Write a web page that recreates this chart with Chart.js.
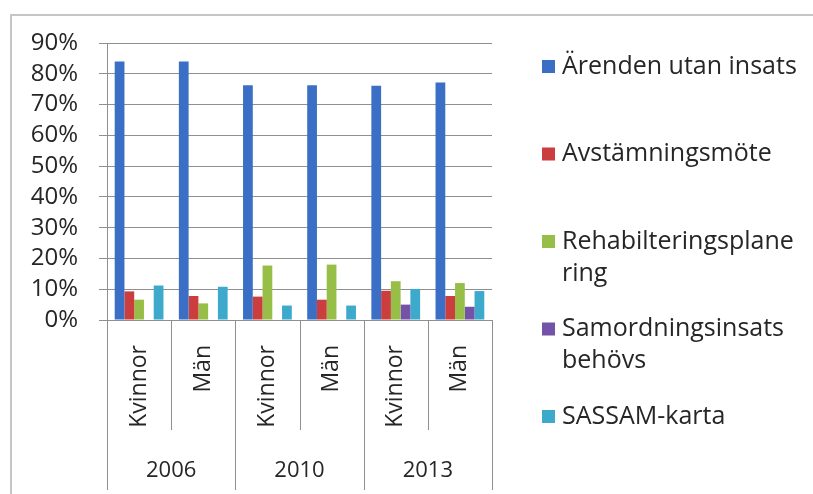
<!DOCTYPE html>
<html>
<head>
<meta charset="utf-8">
<script src="https://cdn.jsdelivr.net/npm/chart.js@4.4.1/dist/chart.umd.min.js"></script>
<style>
  html, body { margin: 0; padding: 0; background: #ffffff; }
  #wrap { width: 813px; height: 494px; position: relative; }
</style>
</head>
<body>
<div id="wrap"><canvas id="c" width="813" height="494"></canvas></div>
<script>
// ---- data ----
const subCategories = ['Kvinnor', 'Män', 'Kvinnor', 'Män', 'Kvinnor', 'Män'];
const years = ['2006', '2010', '2013'];
const seriesNames = ['Ärenden utan insats', 'Avstämningsmöte', 'Rehabilteringsplanering', 'Samordningsinsats behövs', 'SASSAM-karta'];
const legendLines = [['Ärenden utan insats'], ['Avstämningsmöte'], ['Rehabilteringsplane', 'ring'], ['Samordningsinsats', 'behövs'], ['SASSAM-karta']];
const arendenUtanInsats = [84.0, 84.0, 76.3, 76.3, 76.1, 77.2];
const avstamningsmote   = [9.3, 7.8, 7.6, 6.6, 9.5, 7.8];
const rehabPlanering    = [6.6, 5.4, 17.7, 18.0, 12.6, 12.0];
const samordning        = [0, 0, 0, 0, 5.0, 4.3];
const sassamKarta       = [11.2, 10.8, 4.7, 4.7, 10.1, 9.4];
const yMax = 90;
const yStep = 10;

// ---- styles ----
const seriesColors = ['#3b6fc6', '#cc3d3d', '#97bf48', '#7352a8', '#3eaacb'];
const FONT = "'Open Sans', sans-serif";
const textColor = '#262626';
const gridColor = '#8f8f8f';

const seriesValues = [arendenUtanInsats, avstamningsmote, rehabPlanering, samordning, sassamKarta];

const framePlugin = {
  id: 'frame',
  beforeDraw(chart) {
    const ctx = chart.ctx;
    ctx.save();
    ctx.fillStyle = '#ffffff';
    ctx.fillRect(0, 0, chart.width, chart.height);
    ctx.strokeStyle = '#c6c6c6';
    ctx.lineWidth = 2;
    ctx.strokeRect(11, 15, chart.width + 20, chart.height + 20);
    ctx.restore();
  }
};

const separatorPlugin = {
  id: 'separators',
  afterDraw(chart) {
    const x = chart.scales.x;
    const ctx = chart.ctx;
    const n = subCategories.length;
    const perGroup = n / years.length;
    const step = x.getPixelForValue(1) - x.getPixelForValue(0);
    const start = x.getPixelForValue(0) - step / 2;
    ctx.save();
    ctx.strokeStyle = gridColor;
    ctx.lineWidth = 1;
    for (let i = 0; i <= n; i++) {
      const px = Math.round(start + i * step) + 0.5;
      const bottom = (i % perGroup === 0) ? chart.height - 4 : x.bottom;
      ctx.beginPath();
      ctx.moveTo(px, x.top);
      ctx.lineTo(px, bottom);
      ctx.stroke();
    }
    ctx.restore();
  }
};

const legendPlugin = {
  id: 'sideLegend',
  afterDraw(chart) {
    const ctx = chart.ctx;
    const boxX = 542, textX = 562, firstY = 66.5, itemStep = 87.5, lineH = 32, box = 13;
    ctx.save();
    ctx.font = '25px ' + FONT;
    ctx.textBaseline = 'middle';
    ctx.textAlign = 'left';
    chart.data.datasets.forEach((ds, i) => {
      const cy = firstY + i * itemStep;
      ctx.fillStyle = ds.backgroundColor;
      ctx.fillRect(boxX, cy - box / 2, box, box);
      ctx.fillStyle = textColor;
      legendLines[i].forEach((line, j) => {
        ctx.fillText(line, textX, cy + j * lineH);
      });
    });
    ctx.restore();
  }
};

new Chart(document.getElementById('c'), {
  type: 'bar',
  data: {
    labels: subCategories,
    datasets: seriesNames.map((name, i) => ({
      label: name,
      data: seriesValues[i],
      backgroundColor: seriesColors[i],
      borderWidth: 0,
      categoryPercentage: 0.76,
      barPercentage: 1.0,
      xAxisID: 'x',
      yAxisID: 'y'
    }))
  },
  options: {
    responsive: false,
    animation: false,
    events: [],
    layout: { padding: { left: 30, top: 43, right: 321, bottom: 8 } },
    plugins: {
      legend: { display: false },
      tooltip: { enabled: false },
      title: { display: false }
    },
    scales: {
      y: {
        min: 0,
        max: yMax,
        afterFit: s => { s.width = 77; },
        ticks: {
          stepSize: yStep,
          autoSkip: false,
          callback: v => v + '%',
          font: { family: FONT, size: 24 },
          color: textColor,
          padding: 21
        },
        grid: { color: gridColor, tickLength: 8, drawTicks: true },
        border: { color: gridColor }
      },
      x: {
        type: 'category',
        position: 'bottom',
        weight: 0,
        afterFit: s => { s.height = 110; },
        ticks: {
          minRotation: 90,
          maxRotation: 90,
          autoSkip: false,
          padding: 17,
          font: { family: FONT, size: 23 },
          color: textColor
        },
        grid: { display: false },
        border: { display: true, color: gridColor }
      },
      x2: {
        type: 'category',
        position: 'bottom',
        weight: 1,
        labels: years,
        offset: true,
        afterFit: s => { s.height = 56; },
        ticks: {
          autoSkip: false,
          maxRotation: 0,
          padding: 20,
          font: { family: FONT, size: 22 },
          color: textColor
        },
        grid: { display: false },
        border: { display: false }
      }
    }
  },
  plugins: [framePlugin, separatorPlugin, legendPlugin]
});
</script>
</body>
</html>
